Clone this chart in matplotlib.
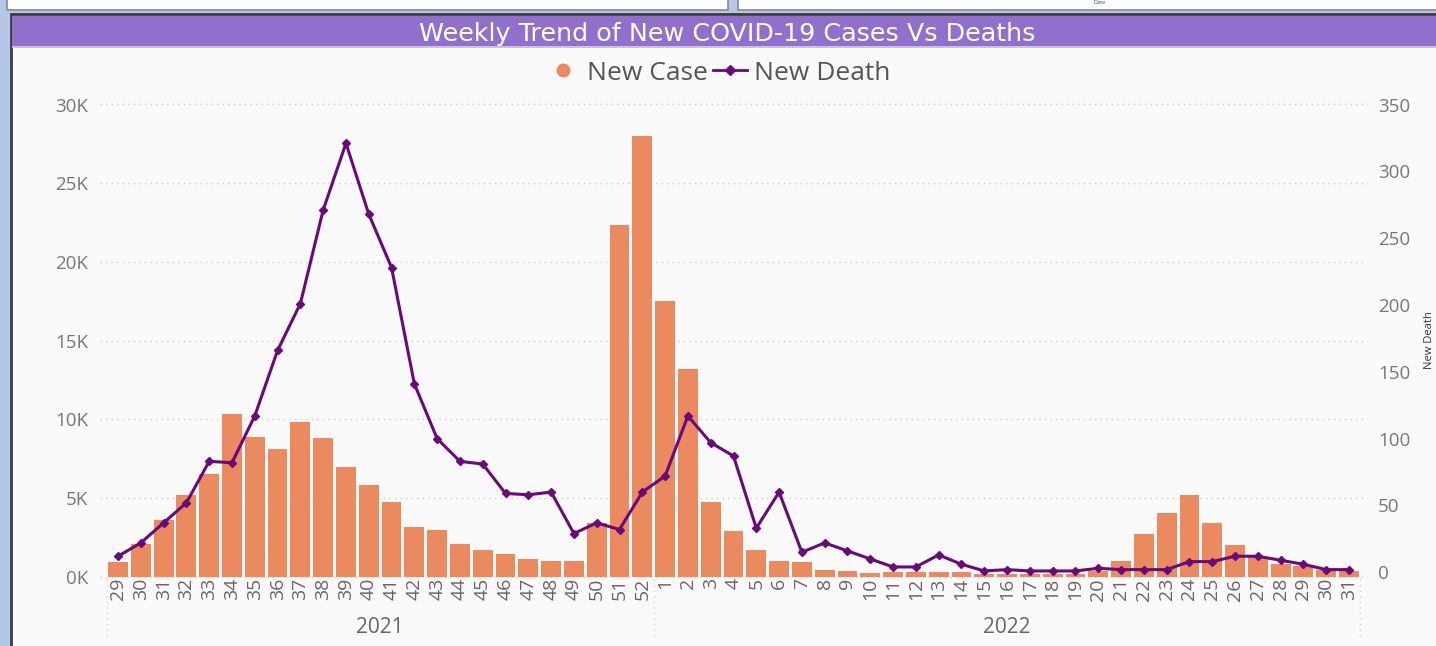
import matplotlib
matplotlib.use("Agg")
import matplotlib.pyplot as plt
from matplotlib.patches import Rectangle
from matplotlib.lines import Line2D
from matplotlib.transforms import blended_transform_factory

plt.rcParams['font.family'] = ['Open Sans', 'DejaVu Sans']

# week numbers on the x axis, grouped by year
weeks_2021 = ['29', '30', '31', '32', '33', '34', '35', '36', '37', '38', '39', '40',
              '41', '42', '43', '44', '45', '46', '47', '48', '49', '50', '51', '52']
weeks_2022 = ['1', '2', '3', '4', '5', '6', '7', '8', '9', '10', '11', '12', '13', '14',
              '15', '16', '17', '18', '19', '20', '21', '22', '23', '24', '25', '26',
              '27', '28', '29', '30', '31']
years = ['2021', '2022']

new_case = [930, 2080, 3630, 5190, 6500, 10350, 8880, 8120, 9840, 8800, 7000, 5850,
            4770, 3160, 2990, 2080, 1680, 1440, 1100, 1020, 1010, 3400, 22370, 28000,
            17530, 13200, 4770, 2900, 1680, 1020, 930, 420, 340, 250, 320, 270, 270, 270,
            200, 180, 160, 160, 180, 350, 1000, 2740, 4030, 5190, 3390, 2010,
            1270, 780, 700, 420, 360]
new_death = [12, 22, 37, 52, 83, 82, 117, 166, 201, 271, 321, 268,
             228, 141, 100, 83, 81, 59, 58, 60, 29, 37, 32, 60,
             72, 117, 97, 87, 33, 60, 15, 22, 16, 10, 4, 4, 13, 6,
             1, 2, 1, 1, 1, 3, 2, 2, 2, 8, 8, 12,
             12, 9, 6, 2, 2]

case_ticks = [0, 5000, 10000, 15000, 20000, 25000, 30000]
case_labels = ['0K', '5K', '10K', '15K', '20K', '25K', '30K']
death_ticks = [0, 50, 100, 150, 200, 250, 300, 350]

BAR = '#EB8A5E'
LINE = '#6A0A7A'
TICK = '#777777'

W, H = 1436, 646


def fx(px):
    return px / W


def fy(py):
    return 1 - py / H


def box(x0, y0, x1, y1, **kw):
    # rectangle given in picture pixels (top-left origin), drawn behind the axes
    r = Rectangle((fx(x0), fy(y1)), fx(x1 - x0), (y1 - y0) / H,
                  transform=fig.transFigure, zorder=-10, **kw)
    fig.patches.append(r)


fig = plt.figure(figsize=(W / 100, H / 100), dpi=100, facecolor='#B4C7E7')

# report canvas pieces: two cards on top, the visual panel and its title bar
box(7, -10, 728, 10, facecolor='#FDFDFD', edgecolor='#8A8A8A', lw=1.2)
box(738, -10, 1446, 10, facecolor='#FDFDFD', edgecolor='#8A8A8A', lw=1.2)
fig.text(fx(1100), fy(0.5), 'Date', fontsize=4, color='#444444', ha='center', va='top')
box(11, 14, 1450, 660, facecolor='#FAFAFA', edgecolor='#3C3C3C', lw=2)
box(12, 16, 1442, 46.5, facecolor='#9070CC', edgecolor='none')
box(12, 46.5, 1442, 47.5, facecolor='#CDBFE8', edgecolor='none')
fig.text(fx(727), fy(34), 'Weekly Trend of New COVID-19 Cases Vs Deaths', color='white',
         fontsize=18.3, ha='center', va='center', family=['DejaVu Sans'])

left, right, top, bottom = 106.6, 1360.4, 104.5, 576.7
ax = fig.add_axes([fx(left), fy(bottom), fx(right - left), (bottom - top) / H])
ax.patch.set_alpha(0)

labels = weeks_2021 + weeks_2022
x = list(range(len(labels)))
ax.bar(x, new_case, width=0.87, color=BAR, zorder=2)
ax.set_xlim(-0.5, len(labels) - 0.5)
ax.set_ylim(0, 30000)
ax.set_yticks(case_ticks)
ax.set_yticklabels(case_labels)
ax.set_xticks(x)
ax.set_xticklabels(labels, rotation=90)
ax.tick_params(axis='y', length=0, pad=13.4, labelsize=13.5, labelcolor=TICK)
ax.tick_params(axis='x', length=0, pad=1, labelsize=14, labelcolor='#666666')
for s in ax.spines.values():
    s.set_visible(False)

# dotted gridlines, a bit wider than the plot area
ax.hlines(case_ticks, -0.005, 1.005, transform=ax.get_yaxis_transform(), clip_on=False,
          colors='#CFCFCF', linestyles=(0, (1, 3)), lw=1, zorder=0)

# year groups under the week labels
trans = blended_transform_factory(ax.transData, ax.transAxes)
n21 = len(weeks_2021)
for xs in [-0.5, n21 - 0.5, len(labels) - 0.5]:
    ax.plot([xs, xs], [-0.004, -0.135], transform=trans, clip_on=False,
            color='#D5D5D5', ls=(0, (1, 3)), lw=1)
ax.text((n21 - 1) / 2, -0.107, years[0], transform=trans, ha='center', va='center',
        fontsize=15, color='#666666')
ax.text(n21 + (len(weeks_2022) - 1) / 2, -0.107, years[1], transform=trans, ha='center',
        va='center', fontsize=15, color='#666666')

ax2 = ax.twinx()
ax2.plot(x, new_death, color=LINE, lw=2.2, marker='D', markersize=4.5, zorder=3)
ax2.set_ylim(-3.3, 350)
ax2.set_yticks(death_ticks)
ax2.tick_params(axis='y', length=0, pad=12.7, labelsize=13.5, labelcolor=TICK)
for s in ax2.spines.values():
    s.set_visible(False)
fig.text(fx(1430), fy(340), 'New Death', rotation=90, ha='center', va='center',
         fontsize=8, color='#333333')

handles = [Line2D([], [], color=BAR, marker='o', ls='none', markersize=9),
           Line2D([], [], color=LINE, marker='D', lw=2, markersize=5)]
fig.legend(handles, ['New Case', 'New Death'], loc='center', bbox_to_anchor=(fx(718), fy(73)),
           ncol=2, frameon=False, fontsize=19, labelcolor='#555555', handlelength=1.3,
           handletextpad=0.25, columnspacing=0.2, borderpad=0)

fig.savefig('out.png', dpi=100, facecolor=fig.get_facecolor())
